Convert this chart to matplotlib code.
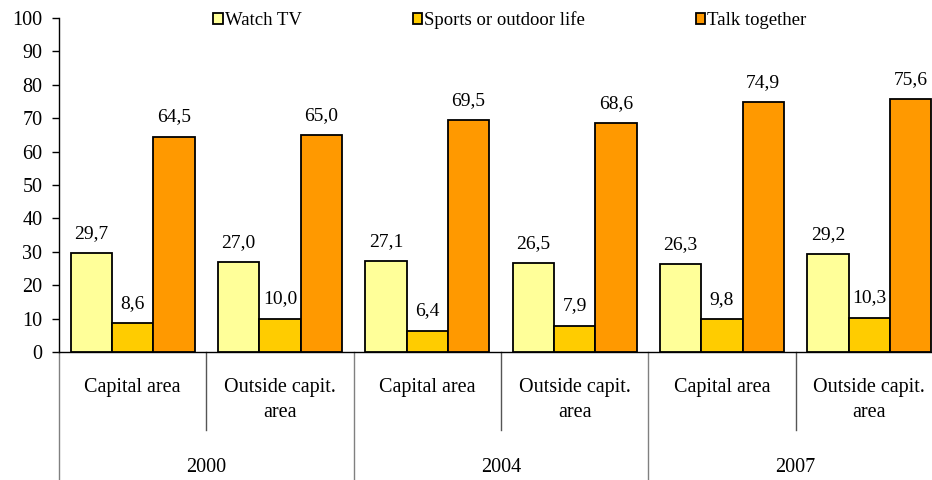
import matplotlib
matplotlib.use("Agg")
import matplotlib.pyplot as plt
from matplotlib.patches import Rectangle
from matplotlib.transforms import blended_transform_factory
import numpy as np

plt.rcParams['font.family'] = ['Liberation Serif', 'DejaVu Serif']

categories = ["Capital area", "Outside capit.\narea", "Capital area", "Outside capit.\narea", "Capital area", "Outside capit.\narea"]
years = ["2000", "2004", "2007"]
series_names = ["Watch TV", "Sports or outdoor life", "Talk together"]
watch_tv = [29.7, 27.0, 27.1, 26.5, 26.3, 29.2]
sports = [8.6, 10.0, 6.4, 7.9, 9.8, 10.3]
talk = [64.5, 65.0, 69.5, 68.6, 74.9, 75.6]
colors = ["#FFFF99", "#FFCC00", "#FF9900"]

W, H = 932, 480
fig = plt.figure(figsize=(W/100, H/100), dpi=100)
x0, x1 = 59, 943
ytop, ybot = 18, 352
ax = fig.add_axes([x0/W, (H-ybot)/H, (x1-x0)/W, (ybot-ytop)/H])

fs = 14.5
fs_lab = 14
fs_leg = 13.5
x = np.arange(len(categories))
bw = 0.28
handles = []
for k, (vals, c, name) in enumerate(zip([watch_tv, sports, talk], colors, series_names)):
    bars = ax.bar(x + (k-1)*bw, vals, width=bw, color=c, edgecolor='black', linewidth=1.3, label=name, zorder=3)
    for b, v in zip(bars, vals):
        ax.annotate(f"{v:.1f}".replace('.', ','), (b.get_x()+b.get_width()/2, v),
                    xytext=(0, 8), textcoords='offset points', ha='center', va='bottom', fontsize=fs_lab)
    handles.append(Rectangle((0, 0), 1, 1, facecolor=c, edgecolor='black', linewidth=1.3))

ax.set_xlim(-0.5, len(categories)-0.5)
ax.set_ylim(0, 100)
ax.set_yticks(np.arange(0, 101, 10))
ax.tick_params(axis='y', direction='out', length=5, width=1, labelsize=fs, pad=7)
ax.set_xticks([])
for s in ['top', 'right']:
    ax.spines[s].set_visible(False)
ax.spines['left'].set_linewidth(1)
ax.spines['bottom'].set_linewidth(1)

trans = blended_transform_factory(ax.transData, fig.transFigure)
def fy(py):
    return (H - py) / H

for i, lab in enumerate(categories):
    ax.text(i, fy(378), lab, transform=trans, ha='center', va='top', fontsize=fs, linespacing=1.45)
for j, yr in enumerate(years):
    ax.text(2*j + 0.5, fy(467), yr, transform=trans, ha='center', va='center', fontsize=fs)

for b in np.arange(-0.5, len(categories), 1.0):
    idx = int(round(b + 0.5))
    if idx % 2 == 0:
        ax.plot([b, b], [fy(ybot), fy(H)], transform=trans, color='#808080', lw=1, clip_on=False)
    else:
        ax.plot([b, b], [fy(ybot), fy(430)], transform=trans, color='#555555', lw=1, clip_on=False)

leg = fig.legend(handles, series_names, loc='center', bbox_to_anchor=(510/W, fy(20)), ncol=3,
                 frameon=False, fontsize=fs_leg, handlelength=0.5, handleheight=0.5,
                 handletextpad=0.12, columnspacing=5.9, borderaxespad=0, borderpad=0)

fig.savefig("out.png", dpi=100)
